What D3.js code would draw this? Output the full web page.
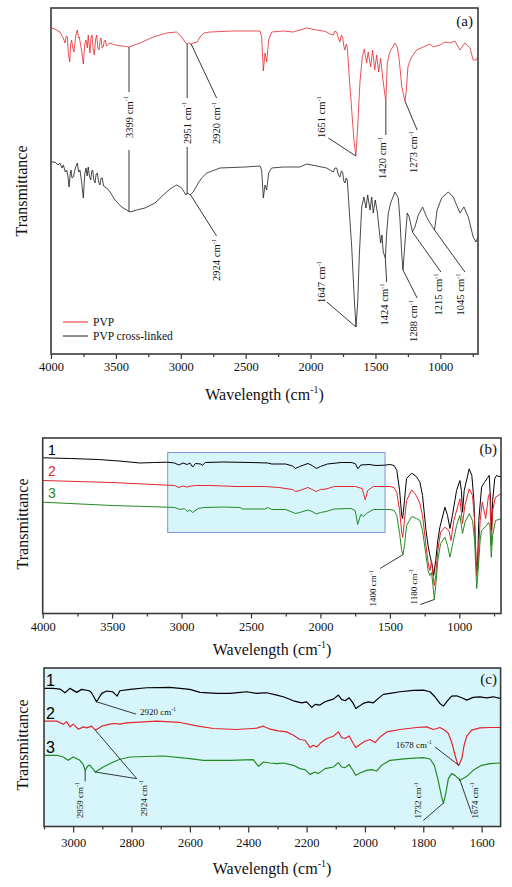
<!DOCTYPE html>
<html><head><meta charset="utf-8">
<script src="https://cdn.jsdelivr.net/npm/d3@7"></script>
<style>body{margin:0;background:#fff}</style>
</head><body>
<svg id="chart" width="512" height="887"></svg>
<script>
// ---------------- DATA (wavenumber cm^-1, transmittance a.u.) ----------------
const ticksAB = [4000,3500,3000,2500,2000,1500,1000];
const minorAB = [3750,3250,2750,2250,1750,1250,750];
const ticksC  = [3000,2800,2600,2400,2200,2000,1800,1600];
const minorC  = [3100,2900,2700,2500,2300,2100,1900,1700];
const zoomRange = [3100,1535];

// Panel (a)
const pvp = [[4000,326],[3969,325],[3946,323],[3931,322],[3915,318],[3905,316],[3892,311],[3882,318],[3874,317],[3866,300],[3856,292],[3848,310],[3841,314],[3832,306],[3823,302],[3810,318],[3797,324],[3789,316],[3782,317],[3766,305],[3751,290],[3740,310],[3730,314],[3720,306],[3713,319],[3700,301],[3692,316],[3684,319],[3675,305],[3666,299],[3657,314],[3648,319],[3639,306],[3630,304],[3622,313],[3615,316],[3606,306],[3597,307],[3590,313],[3582,314],[3572,308],[3563,309],[3545,311],[3507,309],[3450,308],[3399,307],[3314,311],[3212,317],[3109,321],[3032,322],[2993,317],[2968,312],[2951,310],[2939,311],[2920,310],[2904,311],[2873,312],[2852,317],[2821,321],[2775,322],[2598,323],[2390,323],[2377,317],[2364,283],[2351,301],[2338,292],[2323,314],[2300,322],[2210,323],[2133,322],[2030,326],[1953,324],[1900,323],[1876,322],[1850,320],[1825,319],[1812,323],[1799,322],[1786,316],[1774,312],[1763,319],[1753,317],[1744,308],[1735,304],[1726,310],[1717,307],[1702,277],[1683,244],[1666,214],[1651,198],[1637,227],[1620,271],[1602,297],[1586,305],[1568,291],[1556,302],[1537,287],[1522,304],[1506,284],[1491,299],[1475,282],[1460,296],[1445,277],[1432,264],[1420,253],[1409,291],[1396,299],[1381,304],[1350,311],[1332,307],[1317,294],[1297,267],[1273,253],[1262,264],[1250,287],[1238,292],[1221,297],[1183,304],[1132,307],[1080,310],[1055,307],[1003,309],[965,312],[926,311],[888,313],[849,304],[811,311],[772,306],[747,294],[726,294],[710,297]];
const pvpCross = [[4000,192],[3969,192],[3946,189],[3931,191],[3915,186],[3905,189],[3890,182],[3879,184],[3870,178],[3861,167],[3852,180],[3846,184],[3838,176],[3828,177],[3812,186],[3797,191],[3787,182],[3777,184],[3764,172],[3751,156],[3740,180],[3730,186],[3722,178],[3713,187],[3704,178],[3694,174],[3686,183],[3679,184],[3670,174],[3661,171],[3652,180],[3643,181],[3633,172],[3623,169],[3614,176],[3605,176],[3595,168],[3584,167],[3571,166],[3545,162],[3507,154],[3455,147],[3391,142],[3340,144],[3276,146],[3199,151],[3135,159],[3083,165],[3032,169],[2993,166],[2960,159],[2947,161],[2929,159],[2904,162],[2865,171],[2839,176],[2800,181],[2698,186],[2505,187],[2390,188],[2377,184],[2364,156],[2351,169],[2338,164],[2323,181],[2300,186],[2210,187],[2082,187],[2030,190],[1953,188],[1876,186],[1850,184],[1825,182],[1812,186],[1799,186],[1786,179],[1774,177],[1763,183],[1753,182],[1744,173],[1735,171],[1726,176],[1717,174],[1702,144],[1683,107],[1664,57],[1650,27],[1637,51],[1625,97],[1606,147],[1589,157],[1573,146],[1560,159],[1542,144],[1529,157],[1517,141],[1502,154],[1486,142],[1471,124],[1460,111],[1450,119],[1440,102],[1424,96],[1414,121],[1401,141],[1383,151],[1350,162],[1324,156],[1311,134],[1298,101],[1288,84],[1271,114],[1255,141],[1240,137],[1215,122],[1196,127],[1170,139],[1137,147],[1106,137],[1080,131],[1045,124],[1025,144],[990,156],[939,162],[901,157],[849,141],[818,147],[785,137],[747,117],[726,112],[710,117]];

// Panel (b)
const b1 = [[4000,155.7],[3800,155],[3600,154],[3450,152.5],[3300,150.5],[3200,151],[3100,151.3],[3050,150.5],[3020,148.5],[2990,150.5],[2960,149],[2940,150.5],[2920,146.5],[2900,150],[2860,149.5],[2850,148],[2830,151],[2700,151.5],[2500,151],[2380,150.5],[2350,149.5],[2250,149.5],[2200,147.5],[2180,145],[2150,147],[2090,150],[2060,148],[2030,145],[2000,147],[1950,149.5],[1850,151],[1780,151],[1750,150],[1730,144.7],[1710,148.5],[1650,149],[1600,148],[1540,148.3],[1500,149],[1470,148],[1450,143],[1430,123],[1415,98],[1408,95],[1395,113],[1380,135],[1343,140.3],[1310,137],[1284,131.3],[1265,118],[1240,83],[1225,68],[1212,58],[1195,48],[1185,38],[1170,53],[1155,73],[1140,86.3],[1104,106.3],[1085,98],[1068,85],[1050,98],[1020,123],[996,133],[985,123],[977,101.3],[965,123],[929,144.7],[910,138],[895,113],[881,53],[870,43],[860,93],[840,126.3],[820,131],[800,135],[785,138],[775,113],[768,83],[760,113],[745,135],[732,138],[715,137],[700,137]];
const b2 = [[4000,133],[3500,131],[3100,128.3],[3050,128],[3020,126],[2990,127.5],[2960,126.5],[2930,127.5],[2900,128],[2800,128],[2600,127],[2400,127],[2300,126],[2200,124],[2180,122],[2150,123],[2090,126],[2060,124],[2030,122],[2000,124],[1960,124.5],[1900,127],[1750,127],[1700,125],[1690,120],[1678,113.7],[1660,123],[1620,127],[1540,127],[1500,127],[1470,126],[1450,121],[1430,103],[1415,81],[1408,76],[1395,93],[1380,113],[1343,123.7],[1310,118],[1284,110],[1265,98],[1240,68],[1225,51],[1212,43],[1200,53],[1190,38],[1180,28],[1170,38],[1155,63],[1135,81.3],[1104,86.3],[1075,83],[1060,73],[1040,93],[996,114.7],[977,90],[960,108],[929,124.7],[905,118],[890,93],[875,38],[865,53],[850,93],[835,111.3],[810,95],[790,118],[780,120],[770,68],[760,103],[740,116.3],[700,119.7]];
const b3 = [[4000,111.3],[3500,108],[3100,106.3],[3050,106],[3010,104],[2980,105],[2960,102],[2940,103.5],[2920,101],[2880,105],[2840,106],[2700,106.5],[2580,106],[2560,104.5],[2400,104.5],[2380,106],[2350,104],[2250,104],[2180,100],[2150,101],[2090,103.5],[2060,102],[2030,99.5],[2000,101],[1960,102],[1900,104.5],[1780,105],[1750,103],[1732,89],[1710,99],[1690,97],[1670,100],[1620,104],[1540,104],[1500,104],[1470,103],[1450,98],[1430,80],[1415,63],[1405,59],[1395,68],[1380,88],[1343,97],[1310,95],[1284,93],[1265,83],[1240,58],[1225,43],[1212,38],[1200,41],[1190,28],[1180,14],[1170,28],[1155,53],[1135,70],[1104,76.3],[1085,68],[1068,56.3],[1050,68],[1020,88],[996,98],[977,80],[960,91],[929,100],[905,93],[890,73],[875,25],[865,43],[850,73],[840,83],[810,87],[790,91],[780,88],[770,56.3],[760,78],[740,93],[700,94.7]];

// Panel (c)
const c1 = [[3100,137.7],[3068,137.7],[3045,137],[3028,133.3],[3011,137.7],[2988,133.7],[2971,136.7],[2945,135.3],[2937,133.3],[2920,124.3],[2902,132.7],[2885,135],[2865,134.3],[2849,130],[2840,135.3],[2805,136.7],[2748,138.3],[2668,138.7],[2600,136.7],[2565,133.7],[2508,132.7],[2462,132.7],[2428,133.7],[2405,134.3],[2371,132.7],[2348,133.3],[2337,133.3],[2302,131],[2280,129.3],[2245,125.3],[2217,123.3],[2200,124.3],[2182,118.7],[2171,121.7],[2154,121],[2137,124.3],[2120,126],[2108,127],[2091,131],[2080,126.7],[2068,125.3],[2054,128.3],[2040,122.7],[2031,117.7],[2019,120],[2006,122.7],[1988,124.3],[1971,123.3],[1954,127.7],[1937,131.7],[1914,132.7],[1880,134.3],[1834,135.7],[1800,136],[1777,134.3],[1760,129.3],[1743,122.7],[1731,120],[1720,124.3],[1703,130],[1686,130.3],[1668,128.3],[1651,126],[1629,128.7],[1606,129.3],[1583,128.3],[1560,129.3],[1537,127.7]];
const c2 = [[3100,105],[3056,105],[3034,102],[3022,104.3],[3011,99.3],[3000,102],[2982,97],[2965,99.3],[2954,98.3],[2937,100],[2924,96],[2902,100],[2874,102],[2857,102.7],[2840,102],[2817,103.3],[2714,105],[2634,103.7],[2577,100.3],[2520,97.7],[2440,96.7],[2371,98],[2348,100],[2325,97],[2297,95.3],[2268,94.3],[2245,91],[2223,86.7],[2205,86],[2188,78.7],[2177,81],[2165,79.3],[2148,84.3],[2131,87.7],[2108,90],[2091,94.3],[2080,88.7],[2068,87.7],[2054,90.3],[2040,82.7],[2031,78.7],[2017,81.7],[2000,85],[1983,86.7],[1965,83.7],[1948,89.3],[1925,94.3],[1880,96.7],[1823,98.7],[1788,99.3],[1766,96.7],[1743,98.7],[1726,96],[1714,92.7],[1703,84.3],[1691,71],[1683,62.7],[1678,61],[1668,67.7],[1660,81],[1651,90],[1634,96],[1606,98.3],[1571,98.7],[1537,98.7]];
const c3 = [[3100,71],[3056,71],[3034,69.3],[3017,66],[3000,69.3],[2977,66],[2966,62],[2959,56],[2948,61],[2942,61],[2924,54.3],[2897,59.3],[2862,64.3],[2840,67],[2805,69.3],[2691,70.3],[2600,67.7],[2554,66],[2462,66],[2383,66.7],[2365,60],[2348,64.3],[2325,63.3],[2302,62.7],[2280,63.3],[2245,61],[2223,57.7],[2205,56.7],[2188,52],[2171,54.3],[2160,52.7],[2137,57.7],[2108,59.3],[2091,63.7],[2080,59.3],[2068,58.7],[2054,61.7],[2040,55.3],[2031,51],[2017,53.3],[1994,56],[1977,56.7],[1960,55.3],[1943,61],[1914,66],[1857,67.7],[1800,68.7],[1777,67.3],[1762,61],[1749,46],[1737,29.3],[1731,23.3],[1723,32.7],[1714,47.7],[1703,52.7],[1691,51],[1680,47.7],[1674,46],[1651,50],[1629,56],[1600,61],[1571,62.7],[1537,63.3]];

// ---------------- DRAWING ----------------
const SERIF = "'Liberation Serif'";
const SANS = "'Liberation Sans'";
const svg = d3.select("#chart");
const RED = "#e3262c", GREEN = "#238a23", CYAN = "#d7f6fb";

function axes(g, x, y, major, minor, fs, labelY, majLen) {
  const [x0, x1] = x.range(), [yb, yt] = y.range();
  const ax = g.append("g").attr("transform", `translate(0,${yb})`)
    .call(d3.axisBottom(x).tickValues(major).tickSize(majLen).tickSizeOuter(0).tickPadding(3).tickFormat(d3.format("d")));
  ax.attr("font-family", null);
  ax.select(".domain").remove();
  ax.selectAll("line").attr("stroke", "#333").attr("stroke-width", 1.2);
  ax.selectAll("text").attr("font-size", fs).attr("fill", "#111").attr("y", labelY).attr("dy", 0);
  const mi = g.append("g").attr("transform", `translate(0,${yb})`)
    .call(d3.axisBottom(x).tickValues(minor).tickSize(3).tickSizeOuter(0).tickFormat(""));
  mi.select(".domain").remove();
  mi.selectAll("line").attr("stroke", "#333").attr("stroke-width", 1.2);
  g.append("rect").attr("x", x0).attr("y", yt).attr("width", x1 - x0).attr("height", yb - yt)
    .attr("fill", "none").attr("stroke", "#3a3a3a").attr("stroke-width", 1.6);
}
function curve(g, x, y, data, color, w) {
  g.append("path").datum(data).attr("fill", "none").attr("stroke", color).attr("stroke-width", w)
    .attr("stroke-linejoin", "round")
    .attr("d", d3.line().x(d => x(d[0])).y(d => y(d[1])));
}
function seg(g, p, q) {
  g.append("line").attr("x1", p[0]).attr("y1", p[1]).attr("x2", q[0]).attr("y2", q[1])
    .attr("stroke", "#222").attr("stroke-width", 0.9);
}
function sup(t, before, s, after, fs) {
  t.append("tspan").text(before);
  t.append("tspan").attr("dy", -fs * 0.42).style("font-size", (fs * 0.62) + "px").text(s);
  if (after) t.append("tspan").attr("dy", fs * 0.42).text(after);
}
function vlab(g, px, py, num, anchor, fs) {
  const t = g.append("text").attr("transform", `translate(${px},${py}) rotate(-90)`)
    .attr("text-anchor", anchor).attr("dy", "0.35em").style("font-size", fs + "px");
  sup(t, num + " cm", "-1", null, fs);
}
function hlab(g, px, py, num, anchor, fs) {
  const t = g.append("text").attr("x", px).attr("y", py).attr("text-anchor", anchor).style("font-size", fs + "px");
  sup(t, num + " cm", "-1", null, fs);
}
function xlabel(g, cx, by) {
  const t = g.append("text").attr("x", cx).attr("y", by).attr("text-anchor", "middle").style("font-size", "16px");
  sup(t, "Wavelength (cm", "-1", ")", 16);
}
function ylabel(g, cx, cy) {
  g.append("text").attr("transform", `translate(${cx},${cy}) rotate(-90)`).attr("text-anchor", "middle")
    .attr("dy", "0.35em").style("font-size", "16px").text("Transmittance");
}

// ===== Panel (a)
{
  const g = svg.append("g");
  const x = d3.scaleLinear().domain([4000, 710]).range([51, 478]);
  const y = d3.scaleLinear().domain([0, 346]).range([354, 8]);
  curve(g, x, y, pvp, RED, 0.8);
  curve(g, x, y, pvpCross, "#1a1a1a", 0.8);
  axes(g, x, y, ticksAB, minorAB, 12.5, 17, 5);
  xlabel(g, 264.5, 400);
  ylabel(g, 21, 191);
  g.append("text").attr("x", 473).attr("y", 25.5).attr("text-anchor", "end").style("font-size", "15px").text("(a)");
  const P = (w, t) => [x(w), y(t)];
  const fs = 10.5;
  seg(g, P(3399, 307), P(3399, 262)); vlab(g, x(3399), y(258), 3399, "end", fs); seg(g, P(3399, 204), P(3399, 142));
  seg(g, P(2951, 310), P(2951, 256)); vlab(g, x(2951), y(252), 2951, "end", fs); seg(g, P(2951, 207), P(2951, 160));
  seg(g, P(2920, 310), P(2724, 256)); vlab(g, x(2724), y(252), 2920, "end", fs);
  seg(g, P(1651, 198), P(1863, 216)); vlab(g, x(1915), y(216), 1651, "start", fs);
  seg(g, P(1420, 253), P(1420, 219)); vlab(g, x(1445), y(217), 1420, "end", fs);
  seg(g, P(1273, 253), P(1179, 224)); vlab(g, x(1209), y(223), 1273, "end", fs);
  seg(g, P(2924, 159), P(2724, 118)); vlab(g, x(2724), y(115), 2924, "end", fs);
  seg(g, P(1650, 27), P(1875, 52)); vlab(g, x(1915), y(51), 1647, "start", fs);
  seg(g, P(1424, 96), P(1414, 72)); vlab(g, x(1431), y(70.5), 1424, "end", fs);
  seg(g, P(1288, 84), P(1179, 56)); vlab(g, x(1209), y(54), 1288, "end", fs);
  seg(g, P(1215, 122), P(996, 82)); vlab(g, x(1016), y(80.5), 1215, "end", fs);
  seg(g, P(1045, 124), P(811, 82)); vlab(g, x(844), y(80.5), 1045, "end", fs);
  const lg = g.append("g");
  [["PVP", RED, 322], ["PVP cross-linked", "#1a1a1a", 336]].forEach(([n, c, yy]) => {
    lg.append("line").attr("x1", 63).attr("x2", 88).attr("y1", yy).attr("y2", yy).attr("stroke", c).attr("stroke-width", 1);
    lg.append("text").attr("x", 93).attr("y", yy + 4).style("font-size", "11.5px").text(n);
  });
}

// ===== Panel (b)
{
  const g = svg.append("g");
  const x = d3.scaleLinear().domain([4000, 700]).range([42.7, 501]);
  const y = d3.scaleLinear().domain([0, 175.5]).range([613.5, 438]);
  g.append("rect").attr("x", x(zoomRange[0])).attr("y", y(161)).attr("width", x(zoomRange[1]) - x(zoomRange[0]))
    .attr("height", y(81) - y(161)).attr("fill", CYAN).attr("stroke", "#8394d6").attr("stroke-width", 1);
  curve(g, x, y, b1, "#000", 1);
  curve(g, x, y, b2, RED, 1);
  curve(g, x, y, b3, GREEN, 1);
  axes(g, x, y, ticksAB, minorAB, 12.5, 17, 5);
  xlabel(g, 272, 655);
  ylabel(g, 22, 524);
  g.append("text").attr("x", 497).attr("y", 454).attr("text-anchor", "end").style("font-size", "15px").text("(b)");
  [["1", "#000", 455], ["2", RED, 476], ["3", GREEN, 498]].forEach(([n, c, yy]) => {
    g.append("text").attr("class", "sans").attr("x", 48).attr("y", yy)
      .style("font-size", "14px").attr("data-fill", c).text(n);
  });
  const P = (w, t) => [x(w), y(t)];
  seg(g, P(1404, 59), P(1571, 45)); vlab(g, x(1620), y(43), 1400, "end", 9);
  seg(g, P(1180, 14), P(1282, 9)); vlab(g, x(1326), y(9), 1180, "start", 9);
}

// ===== Panel (c)
{
  const g = svg.append("g");
  const x = d3.scaleLinear().domain(zoomRange).range([44, 500.6]);
  const y = d3.scaleLinear().domain([0, 158]).range([826.5, 668]);
  g.append("rect").attr("x", 44).attr("y", 668).attr("width", 456.6).attr("height", 158.5).attr("fill", CYAN);
  curve(g, x, y, c1, "#000", 1.2);
  curve(g, x, y, c2, RED, 1.2);
  curve(g, x, y, c3, GREEN, 1.2);
  axes(g, x, y, ticksC, minorC, 12.5, 20, 6);
  xlabel(g, 272, 874);
  ylabel(g, 22, 745);
  g.append("text").attr("x", 497).attr("y", 684).attr("text-anchor", "end").style("font-size", "15px").text("(c)");
  [["1", 686], ["2", 719], ["3", 753]].forEach(([n, yy]) => {
    g.append("text").attr("class", "sans").attr("x", 46).attr("y", yy).style("font-size", "16px").attr("data-fill", "#000").text(n);
  });
  const P = (w, t) => [x(w), y(t)];
  const fs = 9;
  seg(g, P(2920, 124.3), P(2784, 112)); hlab(g, x(2771), y(112) + 0.5, 2920, "start", fs);
  seg(g, P(2924, 96), P(2782, 47.7)); seg(g, P(2924, 54.3), P(2782, 47.7)); vlab(g, x(2758), y(46), 2924, "end", fs);
  seg(g, P(2959, 56), P(2959, 45)); vlab(g, x(2977), y(44), 2959, "end", fs);
  seg(g, P(1731, 23.3), P(1800, 6)); vlab(g, x(1817), y(8), 1732, "start", fs);
  seg(g, P(1676, 47.7), P(1634, 12.7)); vlab(g, x(1623), y(8), 1674, "start", fs);
  seg(g, P(1678, 61), P(1760, 79.3)); hlab(g, x(1771), y(78), 1678, "end", fs);
}

// fonts and text colour
svg.selectAll("text").each(function () {
  const t = d3.select(this);
  const sans = t.classed("sans");
  t.style("font-family", sans ? SANS : SERIF);
  t.style("fill", t.attr("data-fill") || "#111");
});
</script>
</body></html>
